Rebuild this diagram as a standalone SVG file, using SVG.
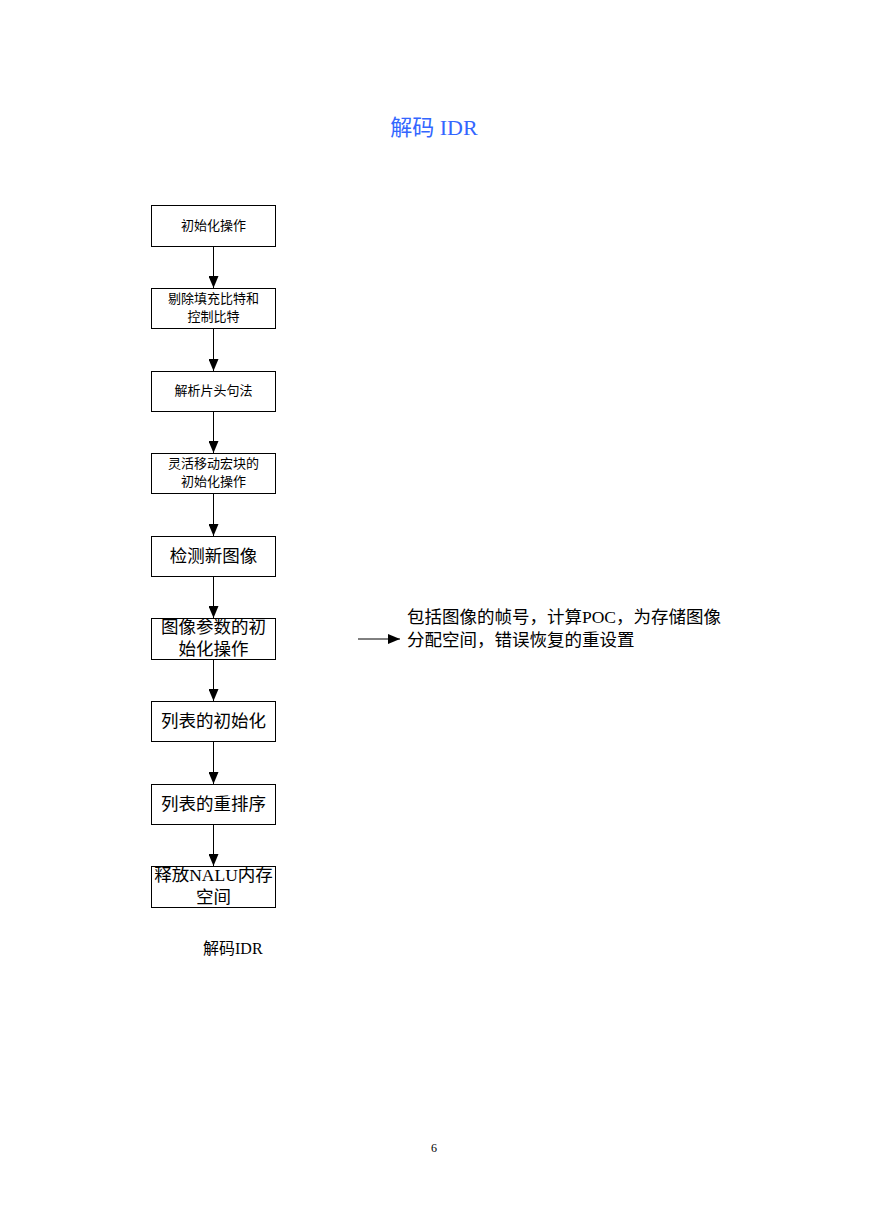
<svg xmlns="http://www.w3.org/2000/svg" width="869" height="1228" viewBox="0 0 869 1228">
<style>
text{font-family:"Liberation Serif","Noto Sans CJK SC",serif;fill:#000}
.box{fill:#fff;stroke:#000;stroke-width:1}
.s{font-size:13px}
.l{font-size:17.5px}
.c{text-anchor:middle}
.line{stroke:#000;stroke-width:1;fill:none}
</style>
<defs>
<marker id="ah" markerWidth="13" markerHeight="10" refX="12" refY="5" orient="auto" markerUnits="userSpaceOnUse">
<path d="M0,0 L12,5 L0,10 Z" fill="#000"/>
</marker>
</defs>
<rect width="869" height="1228" fill="#fff"/>
<text x="434" y="135" class="c" style="font-size:22px;fill:#3366ff">解码 IDR</text>
<g id="connectors">
<line class="line" x1="213.5" y1="246" x2="213.5" y2="288" marker-end="url(#ah)"/>
<line class="line" x1="213.5" y1="329" x2="213.5" y2="371" marker-end="url(#ah)"/>
<line class="line" x1="213.5" y1="412" x2="213.5" y2="453" marker-end="url(#ah)"/>
<line class="line" x1="213.5" y1="494" x2="213.5" y2="536" marker-end="url(#ah)"/>
<line class="line" x1="213.5" y1="577" x2="213.5" y2="618" marker-end="url(#ah)"/>
<line class="line" x1="213.5" y1="660" x2="213.5" y2="701" marker-end="url(#ah)"/>
<line class="line" x1="213.5" y1="742" x2="213.5" y2="784" marker-end="url(#ah)"/>
<line class="line" x1="213.5" y1="825" x2="213.5" y2="866" marker-end="url(#ah)"/>
<line class="line" x1="358" y1="639" x2="400" y2="639" marker-end="url(#ah)"/>
</g>
<g id="n1"><rect class="box" x="151.5" y="205.5" width="124" height="41"/><text x="213.5" y="230" class="c s">初始化操作</text></g>
<g id="n2"><rect class="box" x="151.5" y="288.5" width="124" height="40"/><text x="213.5" y="303" class="c s">剔除填充比特和</text><text x="213.5" y="321" class="c s">控制比特</text></g>
<g id="n3"><rect class="box" x="151.5" y="371.5" width="124" height="40"/><text x="213.5" y="395" class="c s">解析片头句法</text></g>
<g id="n4"><rect class="box" x="151.5" y="453.5" width="124" height="40"/><text x="213.5" y="468" class="c s">灵活移动宏块的</text><text x="213.5" y="486" class="c s">初始化操作</text></g>
<g id="n5"><rect class="box" x="151.5" y="536.5" width="124" height="40"/><text x="213.5" y="562" class="c l">检测新图像</text></g>
<g id="n6"><rect class="box" x="151.5" y="618.5" width="124" height="41"/><text x="213.5" y="633" class="c l">图像参数的初</text><text x="213.5" y="655" class="c l">始化操作</text></g>
<g id="n7"><rect class="box" x="151.5" y="701.5" width="124" height="40"/><text x="213.5" y="727" class="c l">列表的初始化</text></g>
<g id="n8"><rect class="box" x="151.5" y="784.5" width="124" height="40"/><text x="213.5" y="810" class="c l">列表的重排序</text></g>
<g id="n9"><rect class="box" x="151.5" y="866.5" width="124" height="41"/><text x="213.5" y="881" class="c l">释放NALU内存</text><text x="213.5" y="903" class="c l">空间</text></g>
<g id="note"><text x="407" y="623" class="l">包括图像的帧号，计算POC，为存储图像</text><text x="407" y="646" class="l">分配空间，错误恢复的重设置</text></g>
<text x="203" y="954" style="font-size:16px">解码IDR</text>
<text x="434" y="1152" class="c" style="font-size:12px">6</text>
</svg>
